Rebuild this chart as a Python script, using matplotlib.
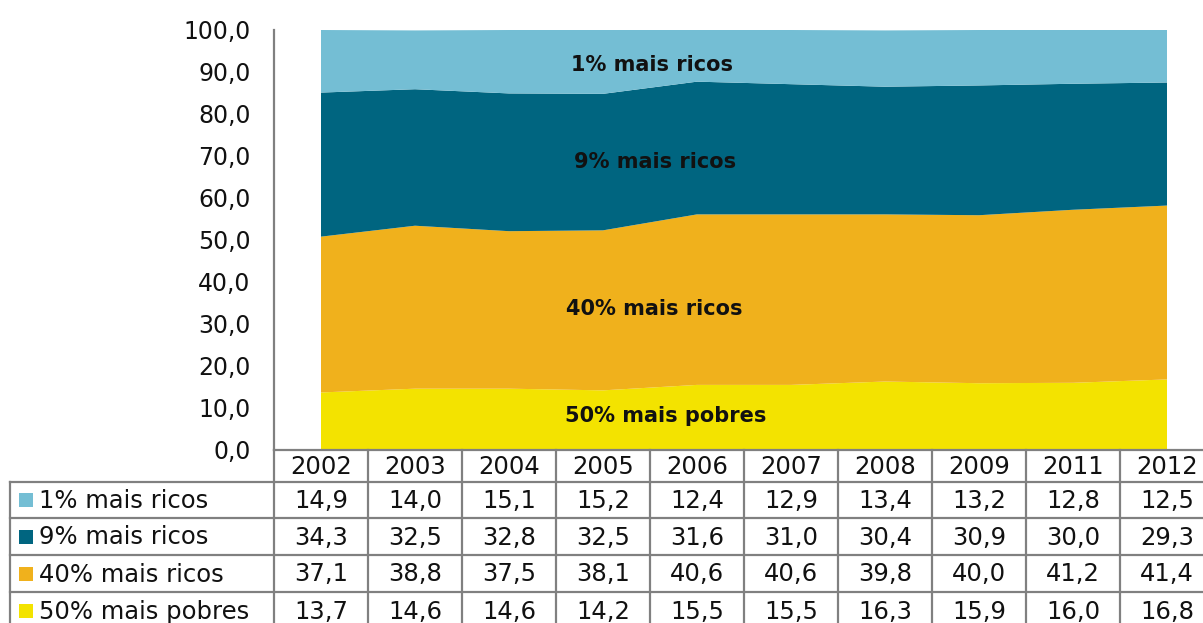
import matplotlib
matplotlib.use("Agg")
import matplotlib.pyplot as plt
from matplotlib.patches import Rectangle
from matplotlib.lines import Line2D
from matplotlib.transforms import blended_transform_factory
import numpy as np

# Income shares by group (%), Brazil
years = ["2002", "2003", "2004", "2005", "2006", "2007", "2008", "2009", "2011", "2012"]
top1 = [14.9, 14.0, 15.1, 15.2, 12.4, 12.9, 13.4, 13.2, 12.8, 12.5]
next9 = [34.3, 32.5, 32.8, 32.5, 31.6, 31.0, 30.4, 30.9, 30.0, 29.3]
next40 = [37.1, 38.8, 37.5, 38.1, 40.6, 40.6, 39.8, 40.0, 41.2, 41.4]
bottom50 = [13.7, 14.6, 14.6, 14.2, 15.5, 15.5, 16.3, 15.9, 16.0, 16.8]

series_names = ["1% mais ricos", "9% mais ricos", "40% mais ricos", "50% mais pobres"]
yticks = [0, 10, 20, 30, 40, 50, 60, 70, 80, 90, 100]

colors = {
    "1% mais ricos": "#74BED4",
    "9% mais ricos": "#006580",
    "40% mais ricos": "#F0B11C",
    "50% mais pobres": "#F3E300",
}
grid_color = "#808080"
text_color = "#111111"
base_font = "DejaVu Sans"

W, H = 1203, 623
fig = plt.figure(figsize=(W / 100, H / 100), dpi=100)
fig.patch.set_facecolor("white")

def fx(px):
    return px / W

def fy(py):
    return 1 - py / H

# Axes: x from -0.5..9.5 maps to 274..1214 px, y 0..100 maps to 450..30 px
ax = fig.add_axes([fx(274), fy(450), 940 / W, 420 / H])
ax.set_xlim(-0.5, len(years) - 0.5)
ax.set_ylim(0, 100)

x = np.arange(len(years))
stack_order = [bottom50, next40, next9, top1]
stack_names = ["50% mais pobres", "40% mais ricos", "9% mais ricos", "1% mais ricos"]
ax.stackplot(x, *stack_order, colors=[colors[n] for n in stack_names], linewidth=0)

for side in ["top", "right", "bottom"]:
    ax.spines[side].set_visible(False)
ax.spines["left"].set_color(grid_color)
ax.spines["left"].set_linewidth(1.6)
ax.set_xticks([])
ax.set_yticks(yticks)
ax.set_yticklabels([f"{v:.1f}".replace(".", ",") for v in yticks],
                   fontsize=17, family=base_font, color=text_color)
ax.tick_params(axis="y", length=0, pad=17)

# In-area labels
label_font = dict(fontsize=15, fontweight="bold", family="DejaVu Sans",
                  color=text_color, ha="center", va="center")
ax.text(3.52, 91.6, "1% mais ricos", **label_font)
ax.text(3.55, 68.5, "9% mais ricos", **label_font)
ax.text(3.54, 33.5, "40% mais ricos", **label_font)
ax.text(3.67, 8.1, "50% mais pobres", **label_font)

# Data table below the chart
tr = blended_transform_factory(ax.transData, fig.transFigure)
row_edges = [450, 482, 518, 555, 592, 629]
table_rows = [top1, next9, next40, bottom50]
text_font = dict(fontsize=17.5, family=base_font, color=text_color,
                 ha="center", va="center")

# header row
for i, yr in enumerate(years):
    ax.text(i, fy((row_edges[0] + row_edges[1]) / 2 + 1), yr, transform=tr,
            clip_on=False, **text_font)

# value rows
for r, (name, vals) in enumerate(zip(series_names, table_rows)):
    yc = fy((row_edges[r + 1] + row_edges[r + 2]) / 2 + 1)
    for i, v in enumerate(vals):
        ax.text(i, yc, f"{v:.1f}".replace(".", ","), transform=tr,
                clip_on=False, **text_font)
    # legend key and row label
    sq = 14
    ycp = (row_edges[r + 1] + row_edges[r + 2]) / 2
    fig.add_artist(Rectangle((fx(19), fy(ycp + sq / 2)), sq / W, sq / H,
                             transform=fig.transFigure, facecolor=colors[name],
                             edgecolor="none"))
    fig.text(fx(39), fy(ycp + 1), name, fontsize=17.5, family=base_font,
             color=text_color, ha="left", va="center")

# grid lines of the table
lw = 1.6
# horizontal line on top of header
fig.add_artist(Line2D([fx(274), 1], [fy(row_edges[0])] * 2,
                      transform=fig.transFigure, color=grid_color, lw=lw))
for yy in row_edges[1:-1]:
    fig.add_artist(Line2D([fx(10), 1], [fy(yy)] * 2,
                          transform=fig.transFigure, color=grid_color, lw=lw))
# left border of row-label column
fig.add_artist(Line2D([fx(10), fx(10)], [fy(row_edges[1]), 0],
                      transform=fig.transFigure, color=grid_color, lw=lw))
# column separators
for i in range(len(years) + 1):
    ax.add_artist(Line2D([i - 0.5, i - 0.5], [fy(row_edges[0]), 0], transform=tr,
                         color=grid_color, lw=lw, clip_on=False))

fig.savefig("out.png", dpi=100, facecolor="white")
